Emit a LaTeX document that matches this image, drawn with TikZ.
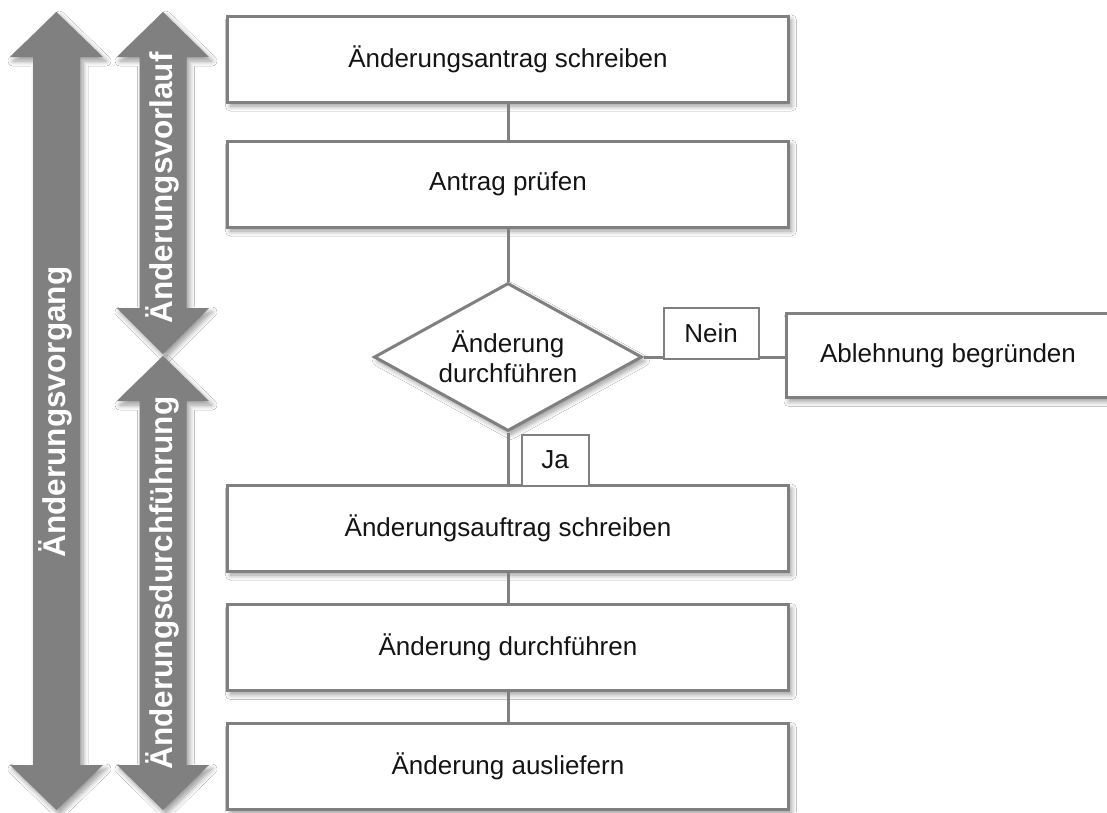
\documentclass[tikz,border=0pt]{standalone}
\usepackage{fontspec}
\setmainfont{Liberation Sans}
\usetikzlibrary{shapes.geometric,shadows.blur}
\definecolor{linegray}{RGB}{128,128,128}
\definecolor{bandgray}{RGB}{128,128,128}
\definecolor{inkblack}{RGB}{20,20,20}

\begin{document}
\begin{tikzpicture}[x=1pt,y=-1pt,
  shadowed/.style={blur shadow={shadow xshift=3pt, shadow yshift=-4pt,
      shadow blur radius=5pt, shadow opacity=40, shadow blur steps=8}},
  stepbox/.style={draw=linegray, line width=3pt, fill=white, text=inkblack,
      minimum width=561pt, minimum height=86pt, inner sep=0pt,
      font=\fontsize{26}{30}\selectfont, shadowed},
  decision/.style={shape=diamond, draw=linegray, line width=3pt, fill=white,
      text=inkblack, minimum width=268pt, minimum height=148pt, aspect=1.8,
      inner sep=0pt, align=center, font=\fontsize{26}{30}\selectfont, shadowed},
  tagbox/.style={draw=linegray, line width=2pt, fill=white, text=inkblack,
      inner sep=0pt, minimum height=51pt, font=\fontsize{26}{30}\selectfont},
  conn/.style={draw=linegray, line width=3pt},
  band/.style={fill=bandgray, shadowed},
  bandtext/.style={rotate=90, text=white, inner sep=0pt,
      font=\fontsize{31.5}{36}\selectfont\bfseries}
]
\fill[white] (0,0) rectangle (1107,812);
\useasboundingbox (0,0) rectangle (1107,812);

% phase bands (double-headed arrows)
\fill[band] (56.5,12) -- (103,57) -- (80,57) -- (80,765) -- (103,765)
  -- (56.5,810) -- (10,765) -- (33,765) -- (33,57) -- (10,57) -- cycle;
\fill[band] (163,12) -- (209,57) -- (186.5,57) -- (186.5,308) -- (209,308)
  -- (163,354) -- (117,308) -- (139.5,308) -- (139.5,57) -- (117,57) -- cycle;
\fill[band] (163,356) -- (209,401) -- (186.5,401) -- (186.5,765) -- (209,765)
  -- (163,810) -- (117,765) -- (139.5,765) -- (139.5,401) -- (117,401) -- cycle;

\node[bandtext] (tvorgang) at (55,412) {Änderungsvorgang};
\node[bandtext] (tvorlauf) at (162,188) {Änderungsvorlauf};
\node[bandtext] (tdurch) at (162,583) {Änderungsdurchführung};

% process steps
\node[stepbox] (s1) at (508,59) {Änderungsantrag schreiben};
\node[stepbox] (s2) at (508,184) {Antrag prüfen};
\node[decision] (dec) at (508,357) {Änderung\\durchführen};
\node[stepbox, minimum width=324pt, minimum height=84pt] (abl) at (948,355.5) {Ablehnung begründen};
\node[stepbox] (s3) at (508,528) {Änderungsauftrag schreiben};
\node[stepbox] (s4) at (508,647.5) {Änderung durchführen};
\node[stepbox] (s5) at (508,766.5) {Änderung ausliefern};

% connectors
\draw[conn] (s1) -- (s2);
\draw[conn] (s2) -- (dec);
\draw[conn] (dec) -- (s3);
\draw[conn] (s3) -- (s4);
\draw[conn] (s4) -- (s5);
\draw[conn] (dec.east) -- (dec.east -| abl.west);

% branch labels
\node[tagbox, minimum width=95pt] (nein) at (711,333) {Nein};
\node[tagbox, minimum width=67pt] (ja) at (555,460) {Ja};
\end{tikzpicture}
\end{document}
